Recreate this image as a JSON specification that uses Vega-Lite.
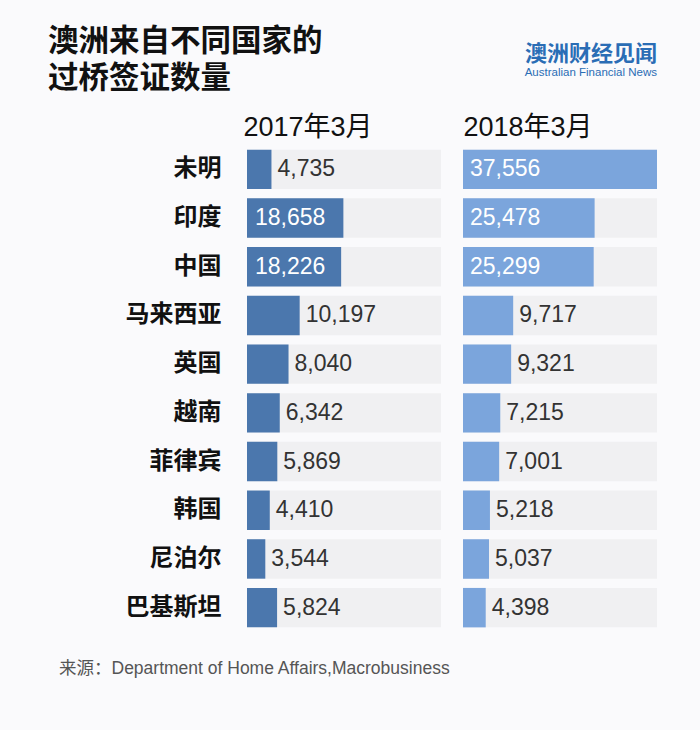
{
  "$schema": "https://vega.github.io/schema/vega-lite/v6.json",
  "background": "#fafafc",
  "padding": {"left": 48, "top": 26, "right": 43, "bottom": 58},
  "config": {"view": {"stroke": null}, "font": "Liberation Sans, Noto Sans CJK SC"},
  "datasets": {
    "visa": [
      {"country": "未明", "period": "2017年3月", "value": 4735},
      {"country": "印度", "period": "2017年3月", "value": 18658},
      {"country": "中国", "period": "2017年3月", "value": 18226},
      {"country": "马来西亚", "period": "2017年3月", "value": 10197},
      {"country": "英国", "period": "2017年3月", "value": 8040},
      {"country": "越南", "period": "2017年3月", "value": 6342},
      {"country": "菲律宾", "period": "2017年3月", "value": 5869},
      {"country": "韩国", "period": "2017年3月", "value": 4410},
      {"country": "尼泊尔", "period": "2017年3月", "value": 3544},
      {"country": "巴基斯坦", "period": "2017年3月", "value": 5824},
      {"country": "未明", "period": "2018年3月", "value": 37556},
      {"country": "印度", "period": "2018年3月", "value": 25478},
      {"country": "中国", "period": "2018年3月", "value": 25299},
      {"country": "马来西亚", "period": "2018年3月", "value": 9717},
      {"country": "英国", "period": "2018年3月", "value": 9321},
      {"country": "越南", "period": "2018年3月", "value": 7215},
      {"country": "菲律宾", "period": "2018年3月", "value": 7001},
      {"country": "韩国", "period": "2018年3月", "value": 5218},
      {"country": "尼泊尔", "period": "2018年3月", "value": 5037},
      {"country": "巴基斯坦", "period": "2018年3月", "value": 4398}
    ]
  },
  "title": {
    "text": "来源：Department of Home Affairs,Macrobusiness",
    "orient": "bottom",
    "anchor": "start",
    "frame": "bounds",
    "fontSize": 17.5,
    "fontWeight": "normal",
    "color": "#555555",
    "font": "Liberation Sans, Noto Sans CJK SC",
    "offset": 28,
    "dx": 11
  },
  "spacing": 22,
  "hconcat": [
    {
      "width": 194,
      "height": 487,
      "data": {"name": "visa"},
      "transform": [{"filter": "datum.period === '2017年3月'"}],
      "title": {
        "text": ["澳洲来自不同国家的", "过桥签证数量"],
        "anchor": "start",
        "frame": "group",
        "font": "Noto Sans CJK SC",
        "fontSize": 30.5,
        "fontWeight": "bold",
        "color": "#111111",
        "lineHeight": 37,
        "dx": -199,
        "offset": 19
      },
      "encoding": {
        "y": {
          "field": "country",
          "type": "nominal",
          "sort": ["未明", "印度", "中国", "马来西亚", "英国", "越南", "菲律宾", "韩国", "尼泊尔", "巴基斯坦"],
          "scale": {"paddingInner": 0.19, "paddingOuter": 0.095},
          "axis": {
            "title": null,
            "domain": false,
            "ticks": false,
            "labelFont": "Noto Sans CJK SC",
            "labelFontSize": 24,
            "labelFontWeight": "bold",
            "labelColor": "#111111",
            "labelPadding": 26
          }
        }
      },
      "layer": [
        {
          "mark": {"type": "bar", "color": "#f0f0f2"},
          "encoding": {
            "x": {
              "datum": 37556,
              "type": "quantitative",
              "scale": {"domain": [0, 37556], "nice": false},
              "axis": {
                "orient": "top",
                "title": "2017年3月",
                "titleAnchor": "start",
                "titleAlign": "left",
                "titleX": -4,
                "titleFontSize": 27,
                "titleFontWeight": "normal",
                "titleColor": "#111111",
                "titlePadding": 4,
                "labels": false,
                "ticks": false,
                "domain": false,
                "grid": false
              }
            }
          }
        },
        {
          "mark": {"type": "bar", "color": "#4b77ad"},
          "encoding": {"x": {"field": "value", "type": "quantitative"}}
        },
        {
          "transform": [{"filter": "datum.value >= 15000"}],
          "mark": {"type": "text", "align": "left", "dx": 8, "fontSize": 23, "font": "Liberation Sans", "color": "#ffffff"},
          "encoding": {
            "x": {"datum": 0, "type": "quantitative"},
            "text": {"field": "value", "type": "quantitative", "format": ",d"}
          }
        },
        {
          "transform": [{"filter": "datum.value < 15000"}],
          "mark": {"type": "text", "align": "left", "dx": 6, "fontSize": 23, "font": "Liberation Sans", "color": "#333333"},
          "encoding": {
            "x": {"field": "value", "type": "quantitative"},
            "text": {"field": "value", "type": "quantitative", "format": ",d"}
          }
        }
      ]
    },
    {
      "width": 194,
      "height": 487,
      "data": {"name": "visa"},
      "transform": [{"filter": "datum.period === '2018年3月'"}],
      "title": {
        "text": "澳洲财经见闻",
        "subtitle": "Australian Financial News",
        "anchor": "end",
        "frame": "group",
        "font": "Noto Sans CJK SC",
        "fontSize": 22,
        "fontWeight": "bold",
        "color": "#2a6db5",
        "subtitleFont": "Liberation Sans",
        "subtitleFontSize": 11.5,
        "subtitleColor": "#2a6db5",
        "subtitlePadding": 1,
        "offset": 34
      },
      "encoding": {
        "y": {
          "field": "country",
          "type": "nominal",
          "sort": ["未明", "印度", "中国", "马来西亚", "英国", "越南", "菲律宾", "韩国", "尼泊尔", "巴基斯坦"],
          "scale": {"paddingInner": 0.19, "paddingOuter": 0.095},
          "axis": null
        }
      },
      "layer": [
        {
          "mark": {"type": "bar", "color": "#f0f0f2"},
          "encoding": {
            "x": {
              "datum": 37556,
              "type": "quantitative",
              "scale": {"domain": [0, 37556], "nice": false},
              "axis": {
                "orient": "top",
                "title": "2018年3月",
                "titleAnchor": "start",
                "titleAlign": "left",
                "titleX": 0,
                "titleFontSize": 27,
                "titleFontWeight": "normal",
                "titleColor": "#111111",
                "titlePadding": 4,
                "labels": false,
                "ticks": false,
                "domain": false,
                "grid": false
              }
            }
          }
        },
        {
          "mark": {"type": "bar", "color": "#7ba5dc"},
          "encoding": {"x": {"field": "value", "type": "quantitative"}}
        },
        {
          "transform": [{"filter": "datum.value >= 15000"}],
          "mark": {"type": "text", "align": "left", "dx": 7, "fontSize": 23, "font": "Liberation Sans", "color": "#ffffff"},
          "encoding": {
            "x": {"datum": 0, "type": "quantitative"},
            "text": {"field": "value", "type": "quantitative", "format": ",d"}
          }
        },
        {
          "transform": [{"filter": "datum.value < 15000"}],
          "mark": {"type": "text", "align": "left", "dx": 6, "fontSize": 23, "font": "Liberation Sans", "color": "#333333"},
          "encoding": {
            "x": {"field": "value", "type": "quantitative"},
            "text": {"field": "value", "type": "quantitative", "format": ",d"}
          }
        }
      ]
    }
  ]
}
